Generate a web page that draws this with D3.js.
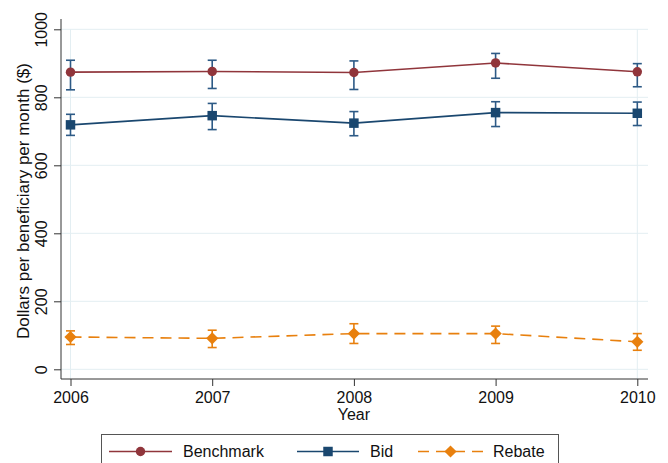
<!DOCTYPE html>
<html><head><meta charset="utf-8">
<script src="https://cdn.jsdelivr.net/npm/d3@7"></script>
<style>body{margin:0;background:#fff}svg{display:block;font-family:"Liberation Sans",Arial,sans-serif}</style>
</head><body><svg id="c" width="668" height="463"></svg>
<script>
const years = [2006, 2007, 2008, 2009, 2010];
const benchmark = [874, 876, 873, 901, 875];
const benchmarkLo = [822, 826, 823, 856, 831];
const benchmarkHi = [909, 909, 907, 929, 899];
const bid = [719, 746, 724, 755, 753];
const bidLo = [688, 705, 687, 714, 717];
const bidHi = [750, 782, 758, 787, 786];
const rebate = [95, 91, 105, 105, 81];
const rebateLo = [73, 64, 76, 76, 56];
const rebateHi = [113, 115, 134, 127, 105];
const yTicks = [0, 200, 400, 600, 800, 1000];
const seriesNames = ["Benchmark", "Bid", "Rebate"];

const svg = d3.select("#c");
const plotL = 61, plotR = 648, plotT = 19, plotB = 379;
const x = d3.scaleLinear().domain([2006, 2010]).range([70.5, 637.3]);
const y = d3.scaleLinear().domain([0, 1000]).range([369.3, 29.3]);

const maroon = "#90353b", navy = "#1a476f", orange = "#e8800e", errBlue = "#2d5a86";
const fs = 16;

// gridlines
svg.append("g").selectAll("line").data(yTicks).join("line")
  .attr("x1", plotL).attr("x2", plotR).attr("y1", d => y(d)).attr("y2", d => y(d))
  .attr("stroke", "#e3eef2").attr("stroke-width", 1);
svg.append("g").selectAll("line").data([2006, 2010]).join("line")
  .attr("x1", d => x(d)).attr("x2", d => x(d)).attr("y1", y(1000)).attr("y2", plotB)
  .attr("stroke", "#e3eef2").attr("stroke-width", 1);

// axes
const yAxis = d3.axisLeft(y).tickValues(yTicks).tickSize(7).tickSizeOuter(0).tickFormat(d3.format("d"));
const gy = svg.append("g").attr("transform", `translate(${plotL},0)`).call(yAxis);
gy.select(".domain").remove();
gy.append("line").attr("x1", 0).attr("x2", 0).attr("y1", plotT).attr("y2", plotB).attr("stroke", "#333");
gy.selectAll(".tick line").attr("stroke", "#333");
gy.selectAll(".tick text").attr("font-size", fs).attr("fill", "#111")
  .attr("transform", "rotate(-90)").attr("x", 0).attr("dy", 0).attr("y", -14)
  .attr("text-anchor", "middle");

const xAxis = d3.axisBottom(x).tickValues(years).tickSize(7).tickSizeOuter(0).tickFormat(d3.format("d"));
const gx = svg.append("g").attr("transform", `translate(0,${plotB})`).call(xAxis);
gx.select(".domain").remove();
gx.append("line").attr("x1", plotL).attr("x2", plotR).attr("y1", 0).attr("y2", 0).attr("stroke", "#333");
gx.selectAll(".tick line").attr("stroke", "#333");
gx.selectAll(".tick text").attr("font-size", fs).attr("fill", "#111").attr("dy", 0).attr("y", 23.5);

svg.append("text").attr("x", x(2008)).attr("y", 420).attr("text-anchor", "middle")
  .attr("font-size", fs).attr("fill", "#111").text("Year");
svg.append("text").attr("transform", `translate(28.5,${(plotT + plotB) / 2 + 2}) rotate(-90)`)
  .attr("text-anchor", "middle").attr("font-size", 17).attr("fill", "#111")
  .text("Dollars per beneficiary per month ($)");

const series = [
  {name: seriesNames[0], v: benchmark, lo: benchmarkLo, hi: benchmarkHi, color: maroon, err: errBlue, dash: null, sym: d3.symbolCircle, size: 70, rot: 0},
  {name: seriesNames[1], v: bid, lo: bidLo, hi: bidHi, color: navy, err: errBlue, dash: null, sym: d3.symbolSquare, size: 90, rot: 0},
  {name: seriesNames[2], v: rebate, lo: rebateLo, hi: rebateHi, color: orange, err: orange, dash: "11,7", sym: d3.symbolSquare, size: 75, rot: 45}
];

const line = d3.line().x(d => x(d[0])).y(d => y(d[1]));
series.forEach(s => {
  const pts = years.map((yr, i) => [yr, s.v[i]]);
  svg.append("path").attr("d", line(pts)).attr("fill", "none").attr("stroke", s.color)
    .attr("stroke-width", 1.6).attr("stroke-dasharray", s.dash);
  const g = svg.append("g").attr("stroke", s.err).attr("stroke-width", 1.6);
  years.forEach((yr, i) => {
    const cx = x(yr);
    g.append("line").attr("x1", cx).attr("x2", cx).attr("y1", y(s.lo[i])).attr("y2", y(s.hi[i]));
    g.append("line").attr("x1", cx - 4.5).attr("x2", cx + 4.5).attr("y1", y(s.lo[i])).attr("y2", y(s.lo[i]));
    g.append("line").attr("x1", cx - 4.5).attr("x2", cx + 4.5).attr("y1", y(s.hi[i])).attr("y2", y(s.hi[i]));
  });
  svg.append("g").selectAll("path").data(pts).join("path")
    .attr("d", d3.symbol(s.sym, s.size)).attr("transform", d => `translate(${x(d[0])},${y(d[1])}) rotate(${s.rot})`)
    .attr("fill", s.color);
});

// legend
const lg = svg.append("g");
lg.append("rect").attr("x", 101.5).attr("y", 434.5).attr("width", 457).attr("height", 40)
  .attr("fill", "#fff").attr("stroke", "#555").attr("stroke-width", 1);
const legX = [{l0: 109, l1: 172, t: 183}, {l0: 297, l1: 359, t: 370}, {l0: 418, l1: 483, t: 493}];
series.forEach((s, i) => {
  const p = legX[i], ly = 451.5;
  lg.append("line").attr("x1", p.l0).attr("x2", p.l1).attr("y1", ly).attr("y2", ly)
    .attr("stroke", s.color).attr("stroke-width", 1.6).attr("stroke-dasharray", s.dash);
  lg.append("path").attr("d", d3.symbol(s.sym, s.size)).attr("transform", `translate(${(p.l0 + p.l1) / 2},${ly}) rotate(${s.rot})`).attr("fill", s.color);
  lg.append("text").attr("x", p.t).attr("y", 457).attr("font-size", fs).attr("fill", "#111").text(s.name);
});
</script></body></html>
